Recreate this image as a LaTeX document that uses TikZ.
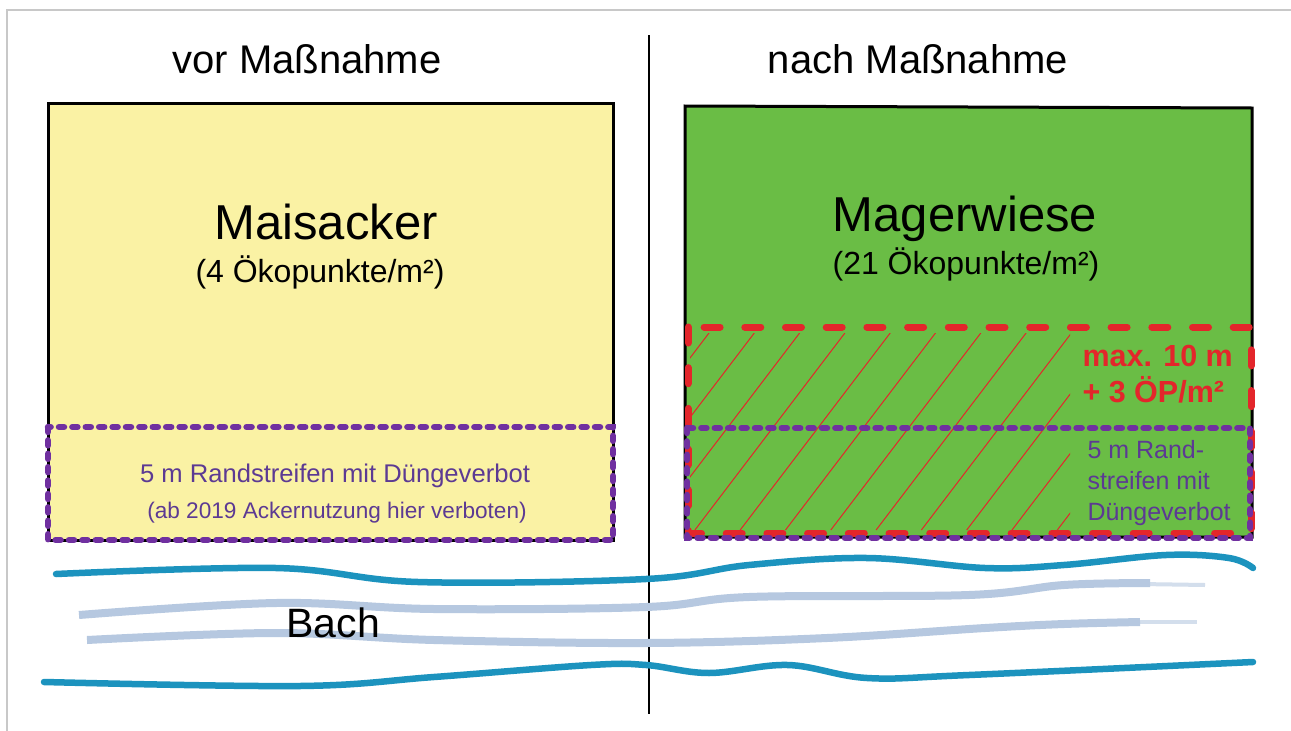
\documentclass[tikz,border=0pt]{standalone}
\usepackage{fontspec}
\setmainfont{Liberation Sans}
\definecolor{yellowf}{HTML}{FAF2A4}
\definecolor{greenf}{HTML}{6ABD45}
\definecolor{purpled}{HTML}{7030A0}
\definecolor{purplet}{HTML}{5C3A93}
\definecolor{redd}{HTML}{E3262B}
\definecolor{bluedark}{HTML}{1C93BE}
\definecolor{bluelight}{HTML}{B6C8E0}
\definecolor{framegray}{HTML}{C8C8C8}
\begin{document}
\begin{tikzpicture}[x=1pt,y=-1pt,
  titletext/.style={font=\fontsize{40}{48}\selectfont, anchor=base},
  bigtext/.style={font=\fontsize{49}{58}\selectfont, anchor=base},
  midtext/.style={font=\fontsize{32}{38}\selectfont, anchor=base},
  ptext/.style={text=purplet, anchor=base},
  redtext/.style={text=redd, font=\bfseries\fontsize{30.5}{36}\selectfont, anchor=base west},
  purpledot/.style={draw=purpled, line width=6.5, line cap=round, dash pattern=on 5 off 8.4},
  reddash/.style={draw=redd, line width=7, line cap=round, dash pattern=on 16 off 24.7},
  fieldbox/.style={draw=black, line width=3},
  hatchline/.style={draw=redd, line width=1},
  streamdark/.style={draw=bluedark, line width=6.5, line cap=round},
  streamlight/.style={draw=bluelight, line width=8},
]
\useasboundingbox (0,0) rectangle (1291,731);
\fill[white] (0,0) rectangle (1291,731);
\draw[framegray, line width=1.5] (7,731) -- (7,10) -- (1291,10);

% left field
\draw[fieldbox, fill=yellowf] (48,103) rectangle (613,540);
\draw[purpledot] (48,427) rectangle (613,540);

% right field
\draw[fieldbox, fill=greenf] (685,106) -- (1252,108) -- (1252,537) -- (685,537) -- cycle;
\begin{scope}
  \clip (690,333) rectangle (1070,531);
  \foreach \k in {-1,...,11} \draw[hatchline] ({709+45.3*\k},333) -- ({559+45.3*\k},530);
\end{scope}
\draw[reddash] (688,327) rectangle (1251,533);
\draw[purpledot] (687,428) rectangle (1250,538);

% divider
\draw[line width=2] (649,35) -- (649,714);

% stream
\draw[streamdark] plot[smooth, tension=0.6] coordinates {(56,574) (276,568) (418,582) (646,579) (749,565) (867,558) (985,568) (1064,565) (1166,555) (1229,558) (1253,568)};
\draw[streamlight] plot[smooth, tension=0.6] coordinates {(79,615) (276,603) (434,609) (646,607) (749,597) (969,595) (1064,585) (1150,583)};
\draw[streamlight, line width=4, opacity=0.6] plot[smooth, tension=0.6] coordinates {(1140,584) (1205,585)};
\draw[streamlight] plot[smooth, tension=0.6] coordinates {(87,640) (276,633) (434,640) (646,643) (827,638) (985,628) (1064,624) (1140,622)};
\draw[streamlight, line width=4, opacity=0.6] plot[smooth, tension=0.6] coordinates {(1130,622) (1197,622)};
\draw[streamdark] plot[smooth, tension=0.6] coordinates {(44,682) (300,686) (434,677) (591,665) (646,665) (709,673) (788,665) (867,678) (969,675) (1253,662)};

% texts
\node[titletext] (vor) at (307,73) {vor Maßnahme};
\node[titletext] (nach) at (918,73) {nach Maßnahme};
\node[bigtext] (mais) at (326,239) {Maisacker};
\node[midtext] (maisp) at (320,282) {(4 Ökopunkte/m²)};
\node[bigtext] (mager) at (965,231) {Magerwiese};
\node[midtext] (magerp) at (966,274) {(21 Ökopunkte/m²)};
\node[ptext, font=\fontsize{25.6}{30}\selectfont] (randl1) at (335,482) {5 m Randstreifen mit Düngeverbot};
\node[ptext, font=\fontsize{22.6}{27}\selectfont] (randl2) at (337,518) {(ab 2019 Ackernutzung hier verboten)};
\node[redtext] (max1) at (1079,366) {max. 10 m};
\node[redtext] (max2) at (1079,402) {+ 3 ÖP/m²};
\node[ptext, anchor=base west, font=\fontsize{25}{30}\selectfont] (randr1) at (1084,458) {5 m Rand-};
\node[ptext, anchor=base west, font=\fontsize{25}{30}\selectfont] (randr2) at (1084,489) {streifen mit};
\node[ptext, anchor=base west, font=\fontsize{25}{30}\selectfont] (randr3) at (1084,520) {Düngeverbot};
\node[anchor=base west, font=\fontsize{41}{48}\selectfont] (bach) at (283,637) {Bach};
\end{tikzpicture}
\end{document}
